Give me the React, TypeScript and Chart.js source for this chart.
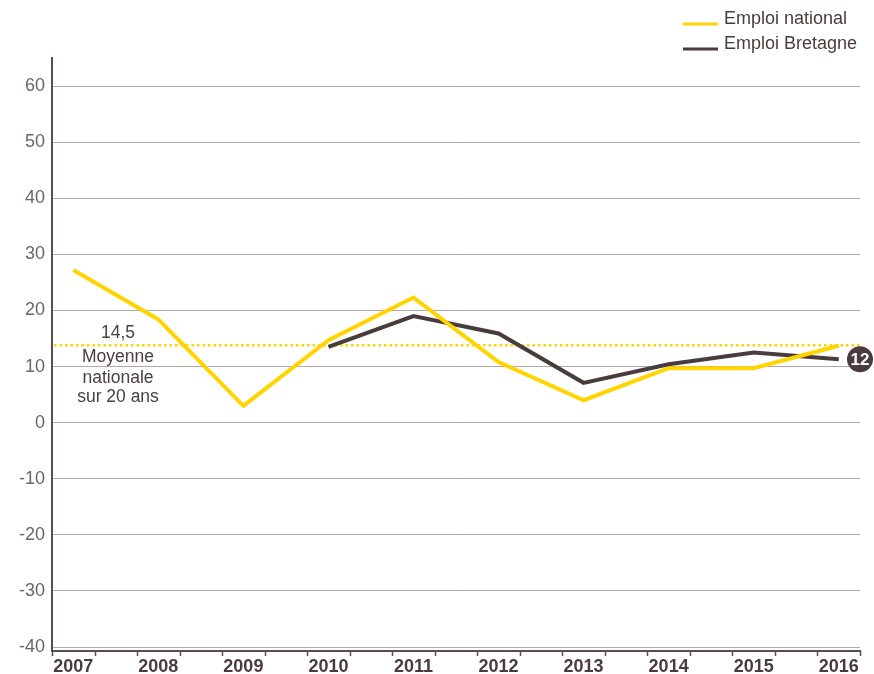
import React, { useEffect, useRef } from "react";
import { Chart, registerables } from "chart.js";

Chart.register(...registerables);

const years = [2007, 2008, 2009, 2010, 2011, 2012, 2013, 2014, 2015, 2016];
const nationalValues = [27.2, 18.4, 3.0, 14.7, 22.3, 10.8, 4.0, 9.7, 9.7, 13.7];
const bretagneValues: (number | null)[] = [null, null, null, 13.5, 19.0, 15.9, 7.1, 10.4, 12.5, 11.3];
const yTicks = [-40, -30, -20, -10, 0, 10, 20, 30, 40, 50, 60];
const averageValue = 13.8;
const averageLabel = "14,5";
const averageText = ["Moyenne", "nationale", "sur 20 ans"];
const endLabel = "12";
const seriesNames = ["Emploi national", "Emploi Bretagne"];

const YELLOW = "#FFD400";
const BROWN = "#4a3c3c";
const FONT = "'Liberation Sans', Arial, Helvetica, sans-serif";

const decorPlugin = {
  id: "decor",
  beforeDatasetsDraw(chart: any) {
    const { ctx, chartArea, scales } = chart;
    const y = scales.y.getPixelForValue(averageValue);
    ctx.save();
    ctx.strokeStyle = YELLOW;
    ctx.lineWidth = 2.5;
    ctx.setLineDash([2.5, 3]);
    ctx.beginPath();
    ctx.moveTo(chartArea.left + 2, y);
    ctx.lineTo(chartArea.right, y);
    ctx.stroke();
    ctx.setLineDash([]);
    ctx.fillStyle = "#4a4040";
    ctx.font = `17.5px ${FONT}`;
    ctx.textAlign = "center";
    ctx.textBaseline = "alphabetic";
    const cx = chartArea.left + 66;
    ctx.fillText(averageLabel, cx, y - 7);
    const offs = [17, 38, 57];
    averageText.forEach((t, i) => ctx.fillText(t, cx, y + offs[i]));
    ctx.restore();
  },
  afterDraw(chart: any) {
    const { ctx, chartArea, scales } = chart;
    ctx.save();
    // x tick marks
    ctx.strokeStyle = "#5a4c4c";
    ctx.lineWidth = 1.5;
    years.forEach((yr) => {
      [yr - 0.25, yr + 0.25].forEach((v) => {
        const px = Math.round(scales.x.getPixelForValue(v)) + 0.5;
        ctx.beginPath();
        ctx.moveTo(px, chartArea.bottom);
        ctx.lineTo(px, chartArea.bottom + 5);
        ctx.stroke();
      });
    });
    // end circle
    const last = bretagneValues[bretagneValues.length - 1] as number;
    const cy = scales.y.getPixelForValue(last);
    const cx = chartArea.right;
    ctx.fillStyle = BROWN;
    ctx.beginPath();
    ctx.arc(cx, cy, 13, 0, Math.PI * 2);
    ctx.fill();
    ctx.fillStyle = "#ffffff";
    ctx.font = `bold 17px ${FONT}`;
    ctx.textAlign = "center";
    ctx.textBaseline = "middle";
    ctx.fillText(endLabel, cx, cy + 1);
    // legend
    const colors = [YELLOW, BROWN];
    ctx.font = `18px ${FONT}`;
    ctx.textAlign = "left";
    ctx.textBaseline = "middle";
    seriesNames.forEach((name, i) => {
      const ly = 24 + i * 25;
      ctx.strokeStyle = colors[i];
      ctx.lineWidth = 3;
      ctx.beginPath();
      ctx.moveTo(683, ly);
      ctx.lineTo(718, ly);
      ctx.stroke();
      ctx.fillStyle = "#4a3c3c";
      ctx.fillText(name, 724, ly - 5);
    });
    ctx.restore();
  },
};

export default function App() {
  const ref = useRef<HTMLCanvasElement | null>(null);
  useEffect(() => {
    document.body.style.margin = "0";
    if (!ref.current) return;
    const chart = new Chart(ref.current, {
      type: "line",
      data: {
        datasets: [
          {
            label: seriesNames[0],
            data: years.map((x, i) => ({ x, y: nationalValues[i] })),
            borderColor: YELLOW,
            borderWidth: 4,
            pointRadius: 0,
            tension: 0,
            borderJoinStyle: "miter",
          },
          {
            label: seriesNames[1],
            data: years.map((x, i) => ({ x, y: bretagneValues[i] })) as any,
            borderColor: BROWN,
            borderWidth: 4,
            pointRadius: 0,
            tension: 0,
            spanGaps: false,
            borderJoinStyle: "miter",
          },
        ],
      },
      options: {
        animation: false,
        responsive: false,
        layout: { padding: { left: 0, top: 58, right: 14, bottom: 0 } },
        plugins: { legend: { display: false }, tooltip: { enabled: false } },
        scales: {
          x: {
            type: "linear",
            min: 2006.75,
            max: 2016.25,
            afterBuildTicks: (s: any) => {
              s.ticks = years.map((v) => ({ value: v }));
            },
            afterFit: (s: any) => {
              s.height = 23;
            },
            grid: { display: true, color: "rgba(0,0,0,0)", drawTicks: false },
            border: { display: true, color: "#5a4c4c", width: 2 },
            ticks: {
              autoSkip: false,
              maxRotation: 0,
              padding: 5,
              color: "#4a3c3c",
              font: { family: FONT, size: 18, weight: "bold" },
              callback: (v: any) => String(v),
            },
          },
          y: {
            type: "linear",
            min: -40.7,
            max: 65,
            afterBuildTicks: (s: any) => {
              s.ticks = yTicks.map((v) => ({ value: v }));
            },
            afterFit: (s: any) => {
              s.width = 52;
            },
            grid: { color: "#b0a8a8", lineWidth: 1, drawTicks: false },
            border: { display: true, color: "#5a4c4c", width: 2 },
            ticks: {
              padding: 7,
              color: "#6e6565",
              font: { family: FONT, size: 18 },
              callback: (v: any) => String(v),
            },
          },
        },
      } as any,
      plugins: [decorPlugin],
    });
    return () => chart.destroy();
  }, []);
  return (
    <div style={{ width: 874, height: 674 }}>
      <canvas ref={ref} width={874} height={674} style={{ display: "block" }} />
    </div>
  );
}
